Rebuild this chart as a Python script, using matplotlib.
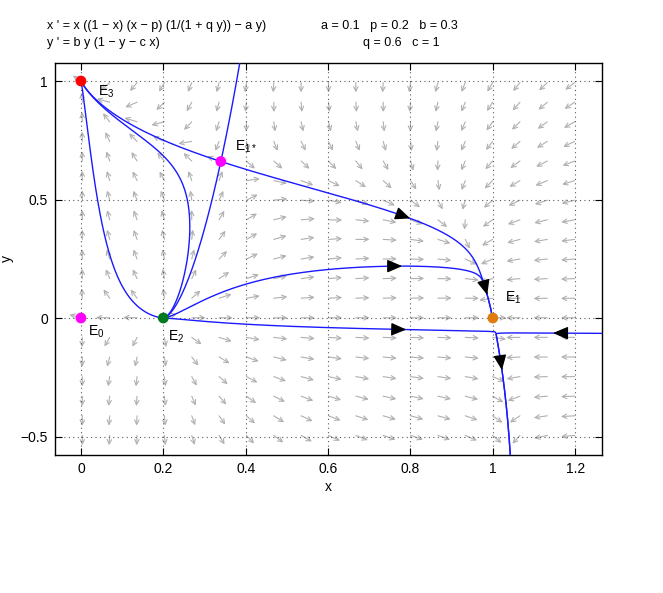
import numpy as np
import matplotlib
matplotlib.use('Agg')
import matplotlib.pyplot as plt
from matplotlib import font_manager

# model parameters (as printed in the header)
a, p, b, q, c = 0.1, 0.2, 0.3, 0.6, 1.0

X_LIM = (-0.063, 1.265)
Y_LIM = (-0.578, 1.076)
N_GRID = 20

x_ticks = [0, 0.2, 0.4, 0.6, 0.8, 1, 1.2]
y_ticks = [-0.5, 0, 0.5, 1]

# equilibrium points
eq_names = ['E$_0$', 'E$_2$', 'E$_1$', 'E$_3$', 'E$_{1*}$']
eq_x = [0.0, 0.2, 1.0, 0.0, 0.34]
eq_y = [0.0, 0.0, 0.0, 1.0, 0.66]
eq_colors = ['#ff00ff', '#007a1e', '#e07b10', '#ff0000', '#ff00ff']
label_x = [0.017, 0.211, 1.03, 0.041, 0.374]
label_y = [-0.075, -0.095, 0.07, 0.94, 0.705]

# points the other orbits pass through
seed_x = [0.07, 0.261, 0.774, 0.63, 1.2]
seed_y = [0.266, 0.287, 0.219, -0.042, -0.064]

# black direction arrows on the orbits
arrow_x = [0.80, 0.78, 0.985, 0.79, 1.024, 1.146]
arrow_y = [0.42, 0.219, 0.097, -0.042, -0.22, -0.063]

names = [f.name for f in font_manager.fontManager.ttflist]
narrow = 'Liberation Sans Narrow' if 'Liberation Sans Narrow' in names else 'Liberation Sans'
plt.rcParams['font.family'] = ['Liberation Sans', 'DejaVu Sans']
plt.rcParams['mathtext.fontset'] = 'custom'
plt.rcParams['mathtext.rm'] = 'Liberation Sans'
plt.rcParams['mathtext.it'] = 'Liberation Sans'


def field(x, y):
    u = x * ((1 - x) * (x - p) / (1 + q * y) - a * y)
    v = b * y * (1 - y - c * x)
    return u, v


def jac(x, y, h=1e-6):
    u1, v1 = field(x + h, y)
    u0, v0 = field(x - h, y)
    u3, v3 = field(x, y + h)
    u2, v2 = field(x, y - h)
    return np.array([[(u1 - u0), (u3 - u2)], [(v1 - v0), (v3 - v2)]]) / (2 * h)


# polish the interior point
ex, ey = eq_x[4], eq_y[4]
for _ in range(20):
    u, v = field(ex, ey)
    d = np.linalg.solve(jac(ex, ey), [u, v])
    ex, ey = ex - d[0], ey - d[1]
eq_x[4], eq_y[4] = ex, ey


def trace(x0, y0, sign, h=0.002, nmax=8000):
    pts = [(x0, y0)]
    x, y = x0, y0

    def g(x, y):
        u, v = field(x, y)
        n = np.hypot(u, v) + 1e-14
        return sign * u / n, sign * v / n

    for k in range(nmax):
        k1 = g(x, y)
        k2 = g(x + h / 2 * k1[0], y + h / 2 * k1[1])
        k3 = g(x + h / 2 * k2[0], y + h / 2 * k2[1])
        k4 = g(x + h * k3[0], y + h * k3[1])
        x += h / 6 * (k1[0] + 2 * k2[0] + 2 * k3[0] + k4[0])
        y += h / 6 * (k1[1] + 2 * k2[1] + 2 * k3[1] + k4[1])
        pts.append((x, y))
        if x < X_LIM[0] - 0.02 or x > X_LIM[1] + 0.02 or y < Y_LIM[0] - 0.02 or y > Y_LIM[1] + 0.02:
            break
        if k > 20 and min(np.hypot(x - ex_, y - ey_) for ex_, ey_ in zip(eq_x, eq_y)) < 0.003:
            break
    return np.array(pts)


def orbit(x0, y0):
    back = trace(x0, y0, -1)[::-1]
    fwd = trace(x0, y0, 1)
    return np.vstack([back, fwd[1:]])


orbits = [orbit(sx, sy) for sx, sy in zip(seed_x, seed_y)]

# separatrices of the saddle
w, vecs = np.linalg.eig(jac(ex, ey))
for i in range(2):
    sgn = 1 if w[i] > 0 else -1
    for s in (1, -1):
        x0 = ex + s * 0.003 * vecs[0, i]
        y0 = ey + s * 0.003 * vecs[1, i]
        tr = trace(x0, y0, sgn)
        tr = np.vstack([[ex, ey], tr])
        orbits.append(tr if sgn > 0 else tr[::-1])

fig = plt.figure(figsize=(6.63, 5.93), dpi=100)
ax = fig.add_axes([55 / 663, 1 - 455 / 593, 547 / 663, 392 / 593])
ax.set_xlim(*X_LIM)
ax.set_ylim(*Y_LIM)

# direction field
dx = (X_LIM[1] - X_LIM[0]) / N_GRID
dy = (Y_LIM[1] - Y_LIM[0]) / N_GRID
for i in range(1, N_GRID):
    for j in range(1, N_GRID):
        gx = X_LIM[0] + i * dx
        gy = Y_LIM[0] + j * dy
        u, v = field(gx, gy)
        un, vn = u / dx, v / dy
        n = np.hypot(un, vn)
        if n == 0:
            continue
        ax.annotate('', xy=(gx + 0.5 * dx * un / n, gy + 0.5 * dy * vn / n), xytext=(gx, gy),
                    arrowprops=dict(arrowstyle='->', color='#b0b0b0', lw=0.8,
                                    shrinkA=0, shrinkB=0, mutation_scale=8), zorder=1)

for tr in orbits:
    ax.plot(tr[:, 0], tr[:, 1], color='#1a1aff', lw=1.0, zorder=3)

# arrow heads on the orbits
for axx, ayy in zip(arrow_x, arrow_y):
    best = None
    for tr in orbits:
        d = np.hypot(tr[:, 0] - axx, tr[:, 1] - ayy)
        k = int(np.argmin(d))
        if best is None or d[k] < best[0]:
            best = (d[k], tr, k)
    _, tr, k = best
    k = max(k, 4)
    ax.annotate('', xy=tr[k], xytext=tr[k - 4],
                arrowprops=dict(arrowstyle='-|>,head_length=0.7,head_width=0.3', color='black',
                                lw=1, shrinkA=0, shrinkB=0, mutation_scale=13), zorder=5)

ax.scatter(eq_x, eq_y, s=60, c=eq_colors, zorder=6, linewidths=0)
for name, lx, ly in zip(eq_names, label_x, label_y):
    ax.text(lx, ly, name, fontsize=10, zorder=7)

ax.set_xticks(x_ticks)
ax.set_xticklabels(['0', '0.2', '0.4', '0.6', '0.8', '1', '1.2'])
ax.set_yticks(y_ticks)
ax.set_yticklabels(['\u22120.5', '0', '0.5', '1'])
ax.tick_params(direction='in', top=True, right=True, length=5, labelsize=10, pad=5)
ax.grid(True, color='0.35', linestyle=(0, (1, 3)), lw=0.8)
for sp in ax.spines.values():
    sp.set_linewidth(1.0)
ax.set_xlabel('x', fontsize=10, labelpad=3)
ax.set_ylabel('y', fontsize=10)
ax.yaxis.set_label_coords(-0.075, 0.5)

fig.text(47 / 663, 1 - 29 / 593, "x ' = x ((1 \u2212 x) (x \u2212 p) (1/(1 + q y)) \u2212 a y)",
         fontsize=9, family=narrow, va='baseline')
fig.text(47 / 663, 1 - 46 / 593, "y ' = b y (1 \u2212 y \u2212 c x)",
         fontsize=9, family=narrow, va='baseline')
fig.text(321 / 663, 1 - 29 / 593, "a = 0.1   p = 0.2   b = 0.3",
         fontsize=9, family=narrow, va='baseline')
fig.text(363 / 663, 1 - 46 / 593, "q = 0.6   c = 1",
         fontsize=9, family=narrow, va='baseline')

fig.savefig('out.png', dpi=100, facecolor='white')
